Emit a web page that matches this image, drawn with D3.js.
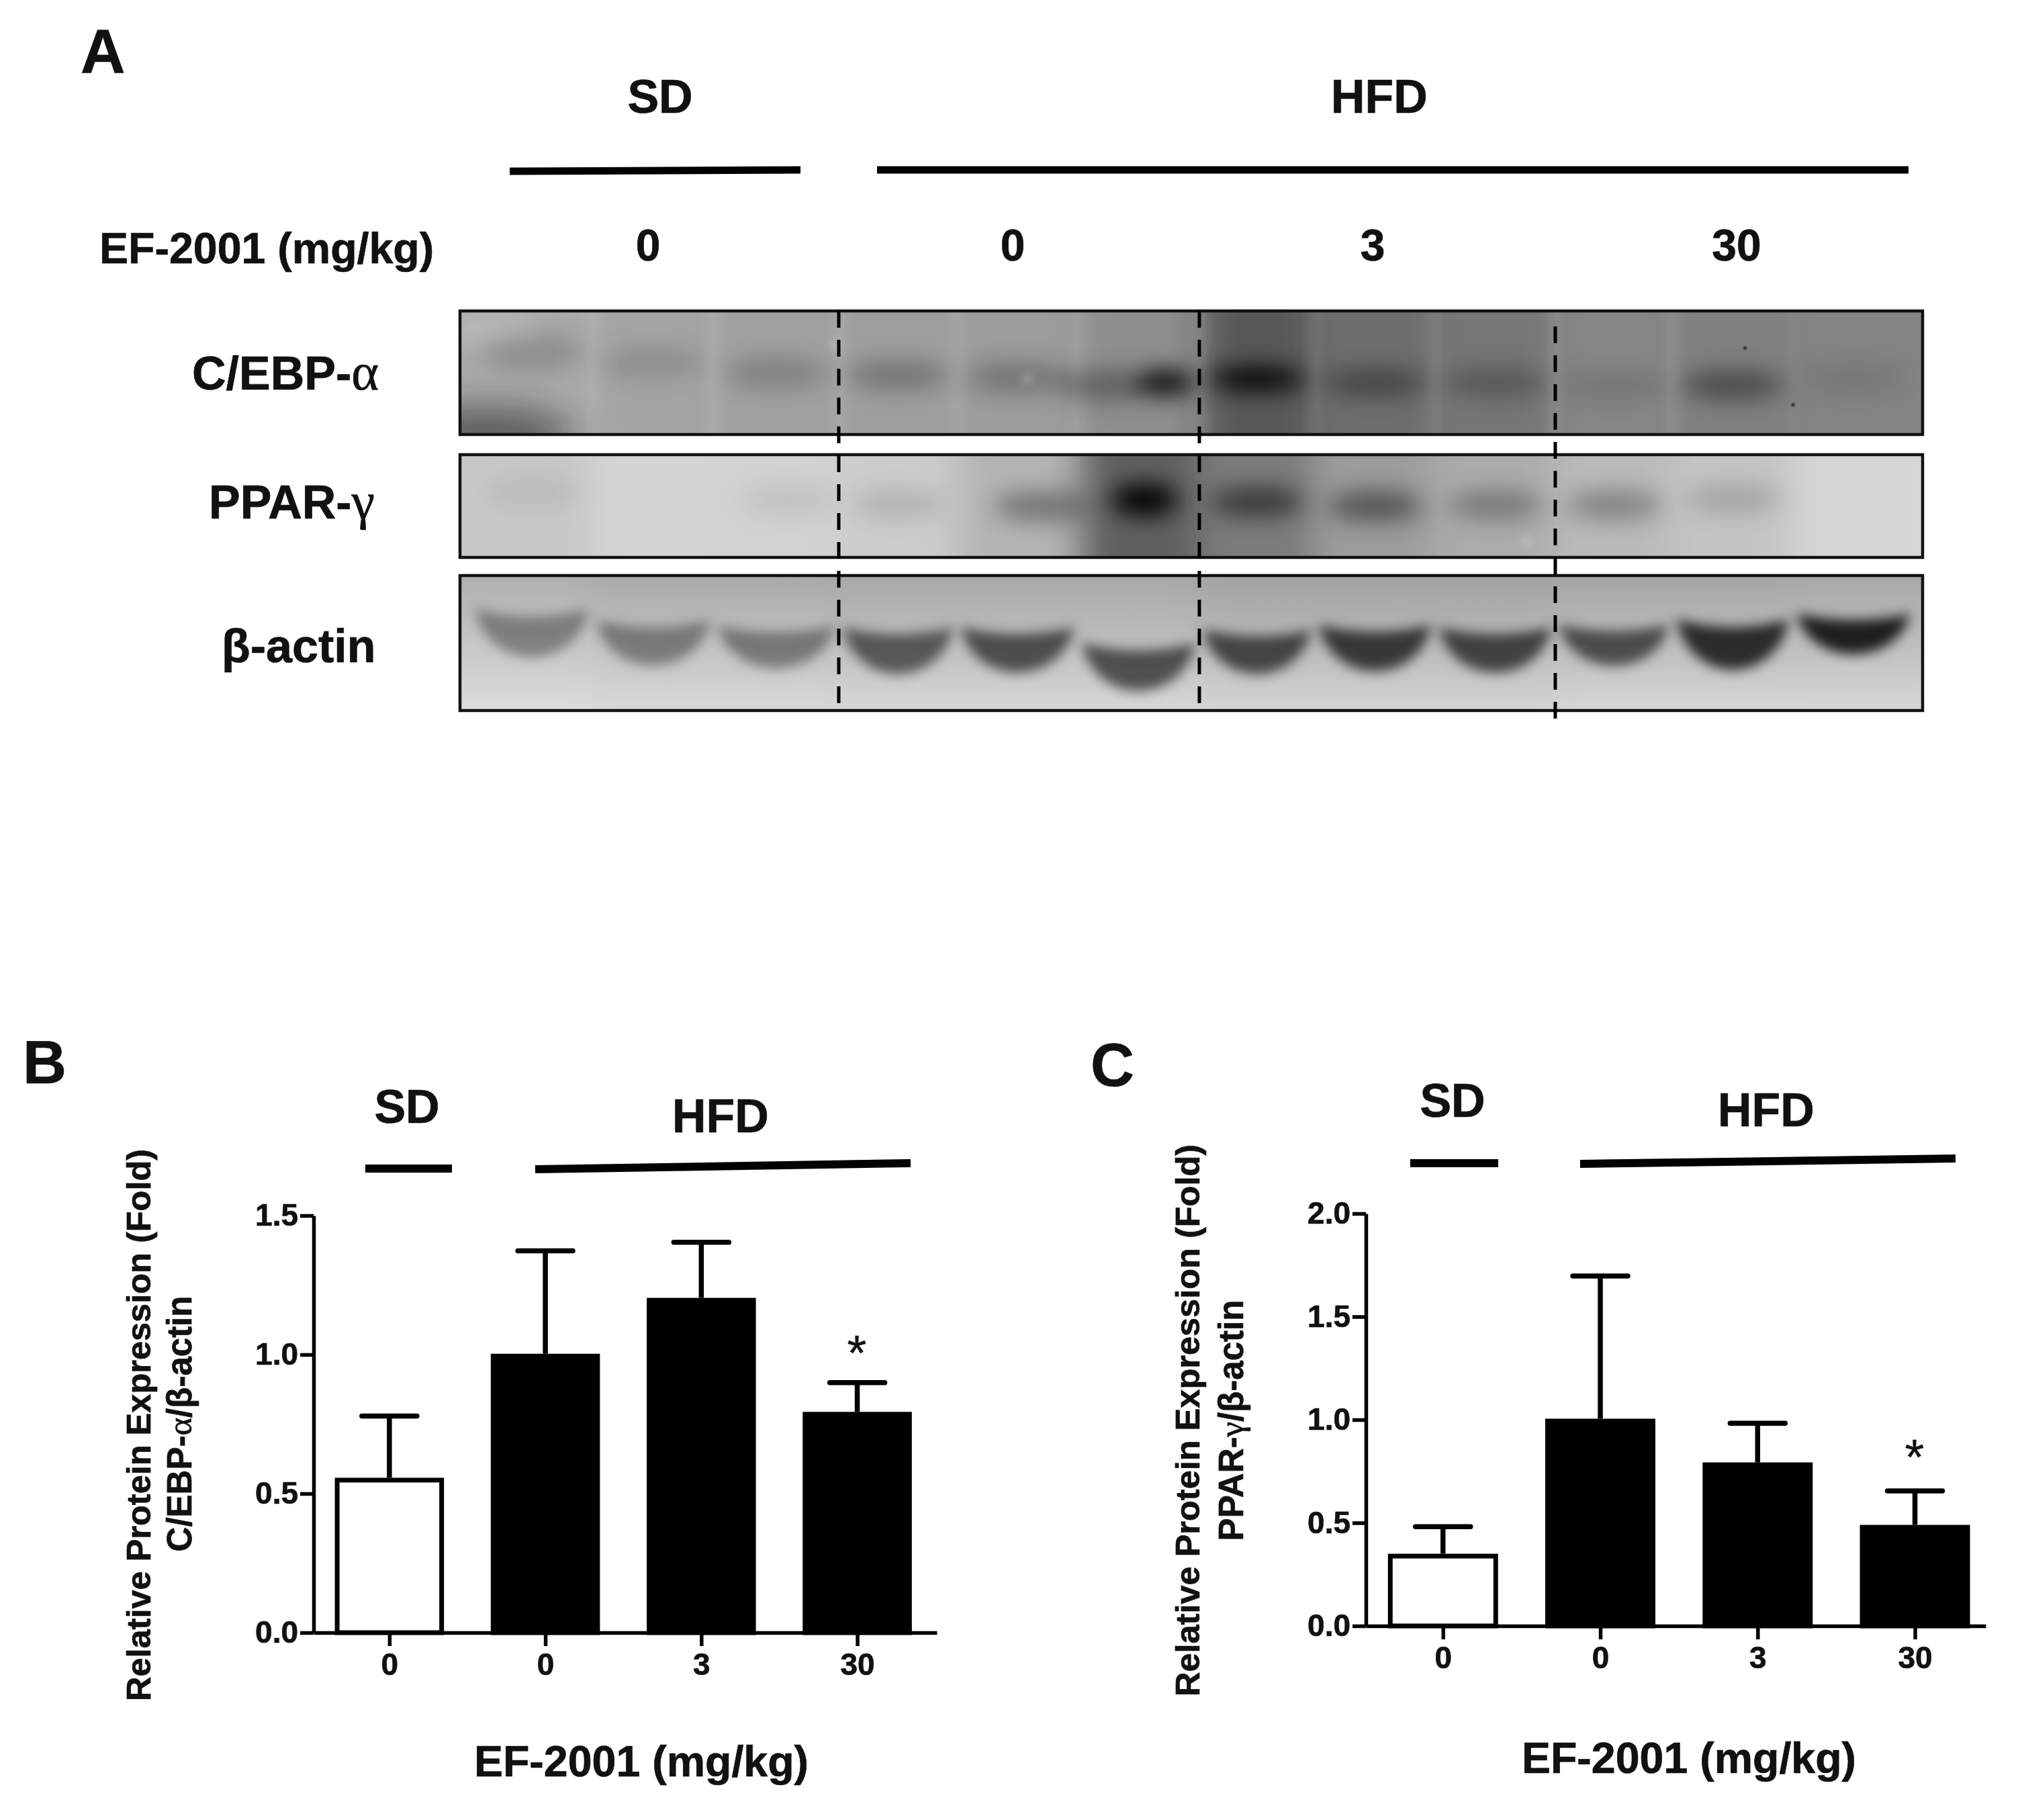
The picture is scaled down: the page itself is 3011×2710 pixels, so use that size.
<!DOCTYPE html>
<html><head><meta charset="utf-8">
<script src="https://cdn.jsdelivr.net/npm/d3@7"></script>
<style>
html,body{margin:0;padding:0;background:#fff}
svg{display:block}
text{font-family:"Liberation Sans",Arial,sans-serif;font-weight:700;fill:#111;stroke:#111;stroke-width:.7}
.greek{font-family:"Liberation Serif",serif;font-weight:400}
</style></head><body>
<div id="c"></div>
<script>
// ---------- data ----------
const xLabels = ["0","0","3","30"];
const groupB = ["SD","HFD","HFD","HFD"];
const cebpMean = [0.557,1.003,1.204,0.794];
const cebpUpper = [0.779,1.373,1.404,0.899];
const ppargMean = [0.35,1.005,0.793,0.49];
const ppargUpper = [0.481,1.697,0.983,0.655];
const cebpTicks = [0,0.5,1.0,1.5];
const ppargTicks = [0,0.5,1.0,1.5,2.0];
const doseLabels = ["0","0","3","30"];
const blotNames = ["C/EBP-","PPAR-","β-actin"];

// blot lane readings (12 lanes); grey = background level, density = band darkness, pos = relative height in panel
const cebpBg    = [170,164,160,158,156,142,88,110,118,134,128,132];
const cebpLane  = [0.5,1.5,2.5,3.5,4.5,5.25,5.72,6.5,7.5,8.5,9.5,10.5,11.5];
const cebpPos   = [0.33,0.42,0.50,0.52,0.54,0.60,0.58,0.55,0.58,0.58,0.60,0.60,0.54];
const cebpDens  = [0.16,0.14,0.20,0.26,0.26,0.32,1.0,1.0,0.36,0.26,0.12,0.42,0.10];
const pparBg    = [200,212,210,204,180,96,124,156,172,186,196,214];
const pparLane  = [0.5,2.6,3.5,4.7,5.55,6.5,7.5,8.5,9.5,10.5];
const pparPos   = [0.36,0.44,0.48,0.50,0.44,0.46,0.50,0.49,0.49,0.43];
const pparDens  = [0.07,0.08,0.12,0.36,1.0,0.55,0.48,0.30,0.30,0.16];
const actinBg   = [198,192,192,190,190,190,184,184,184,188,188,190];
const actinTop  = [0.25,0.333,0.373,0.383,0.383,0.50,0.40,0.365,0.383,0.365,0.325,0.283];
const actinBot  = [0.607,0.667,0.687,0.73,0.72,0.856,0.73,0.71,0.72,0.67,0.70,0.583];
const actinDens = [0.42,0.44,0.46,0.66,0.72,0.72,0.76,0.84,0.78,0.72,0.92,1.0];
const laneEdges = [702,882,1063,1249,1425,1605,1786,1958,2137,2316,2491,2670,2850];

const W=3011,H=2710;
const svg=d3.select("#c").append("svg").attr("width",W).attr("height",H).attr("viewBox",[0,0,W,H]);
svg.append("rect").attr("width",W).attr("height",H).attr("fill","#fff");
const defs=svg.append("defs");
function blur(id,s){defs.append("filter").attr("id",id).attr("filterUnits","userSpaceOnUse")
  .attr("x",0).attr("y",0).attr("width",W).attr("height",H)
  .append("feGaussianBlur").attr("stdDeviation",s);}
blur("b30",26);blur("b18",17);blur("b12",13);blur("b7",9);blur("b3",6);blur("b1",1.2);

const laneX=d3.scaleLinear().domain(d3.range(13)).range(laneEdges);
const left=685,right=2863;
const panels=[{t:463,b:647},{t:677,b:830},{t:857,b:1058}];
panels.forEach((p,i)=>{
  p.y=d3.scaleLinear().domain([0,1]).range([p.t,p.b]);
  defs.append("clipPath").attr("id","clip"+i).append("rect").attr("x",left).attr("y",p.t).attr("width",right-left).attr("height",p.b-p.t);
  p.g=svg.append("g").attr("clip-path",`url(#clip${i})`);
});
function grey(v){return d3.rgb(v,v,v)+"";}
function background(p,vals){
  p.g.append("g").attr("filter","url(#b30)").selectAll("rect").data(vals).join("rect")
    .attr("x",(d,i)=>laneX(i)-(i==0?80:0)).attr("width",(d,i)=>laneX(i+1)-laneX(i)+(i==0||i==11?80:0)+1)
    .attr("y",p.t-80).attr("height",p.b-p.t+160).attr("fill",d=>grey(d));
}
// --- C/EBP panel
const P0=panels[0];
background(P0,cebpBg);
P0.g.append("g").attr("filter","url(#b7)").selectAll("rect").data(d3.range(1,12)).join("rect")
  .attr("x",d=>laneX(d)-8).attr("width",16).attr("y",P0.t-20).attr("height",P0.b-P0.t+40)
  .attr("fill","#fff").attr("opacity",d=>d==11?0.03:0.11);
P0.g.append("ellipse").attr("cx",laneX(0.12)).attr("cy",P0.y(1.0)).attr("rx",130).attr("ry",42)
  .attr("fill","#222").attr("opacity",0.55).attr("filter","url(#b30)");
P0.g.append("ellipse").attr("cx",laneX(0.2)).attr("cy",P0.y(0.16)).attr("rx",70).attr("ry",22)
  .attr("fill","#fff").attr("opacity",0.22).attr("filter","url(#b18)");
P0.g.append("g").attr("filter","url(#b18)").selectAll("ellipse").data(cebpLane).join("ellipse")
  .attr("cx",d=>laneX(d)).attr("cy",(d,i)=>P0.y(cebpPos[i]))
  .attr("rx",(d,i)=>cebpDens[i]>0.8?(d>6?72:44):76).attr("ry",(d,i)=>cebpDens[i]>0.8?17:(i==0?30:22))
  .attr("fill","#000").attr("opacity",(d,i)=>cebpDens[i]);
P0.g.append("g").attr("filter","url(#b3)").selectAll("circle").data([[2.98,0.28],[4.58,0.55]]).join("circle")
  .attr("cx",d=>laneX(d[0])).attr("cy",d=>P0.y(d[1])).attr("r",9).attr("fill","#fff").attr("opacity",0.2);
P0.g.append("g").attr("filter","url(#b1)").selectAll("circle").data([[10.6,0.30],[11,0.76]]).join("circle")
  .attr("cx",d=>laneX(d[0])).attr("cy",d=>P0.y(d[1])).attr("r",2.5).attr("fill","#222");
// --- PPAR panel
const P1=panels[1];
background(P1,pparBg);
P1.g.append("g").attr("filter","url(#b18)").selectAll("ellipse").data(pparLane).join("ellipse")
  .attr("cx",d=>laneX(d)).attr("cy",(d,i)=>P1.y(pparPos[i]))
  .attr("rx",(d,i)=>pparDens[i]>0.8?50:70).attr("ry",(d,i)=>pparDens[i]>0.8?24:22)
  .attr("fill","#000").attr("opacity",(d,i)=>pparDens[i]);
P1.g.append("circle").attr("cx",laneX(8.76)).attr("cy",P1.y(0.84)).attr("r",9).attr("fill","#fff").attr("opacity",0.18).attr("filter","url(#b3)");
// --- actin panel
const P2=panels[2];
background(P2,actinBg);
const topGrad=defs.append("linearGradient").attr("id","fade").attr("x1",0).attr("x2",0).attr("y1",0).attr("y2",1);
topGrad.append("stop").attr("offset",0).attr("stop-color","#000").attr("stop-opacity",0.12);
topGrad.append("stop").attr("offset",0.5).attr("stop-color","#000").attr("stop-opacity",0);
topGrad.append("stop").attr("offset",0.5).attr("stop-color","#fff").attr("stop-opacity",0);
topGrad.append("stop").attr("offset",1).attr("stop-color","#fff").attr("stop-opacity",0.4);
P2.g.append("rect").attr("x",left).attr("y",P2.t).attr("width",right-left).attr("height",P2.b-P2.t).attr("fill","url(#fade)");
function crescent(i){
  const c=(laneX(i)+laneX(i+1))/2,w=(laneX(i+1)-laneX(i))*0.47,t=P2.y(actinTop[i]),b=P2.y(actinBot[i]);
  const h=b-t, pth=d3.path();
  pth.moveTo(c-w,t);
  pth.quadraticCurveTo(c,t+h*0.30,c+w,t);
  pth.bezierCurveTo(c+w*0.75,b+h*0.33,c-w*0.75,b+h*0.33,c-w,t);
  pth.closePath();
  return pth+"";
}
P2.g.append("g").attr("filter","url(#b7)").selectAll("path").data(d3.range(12)).join("path")
  .attr("d",crescent).attr("fill","#000").attr("opacity",d=>actinDens[d]*0.84);
// borders
panels.forEach(p=>svg.append("rect").attr("x",left).attr("y",p.t).attr("width",right-left).attr("height",p.b-p.t)
  .attr("fill","none").attr("stroke","#111").attr("stroke-width",4.5));
// dashed lane dividers
const dividers=[{lane:3,a:463,b:1054},{lane:6,a:463,b:1054},{lane:9,a:486,b:1075}];
svg.selectAll("line.dash").data(dividers).join("line").attr("class","dash")
  .attr("x1",d=>laneX(d.lane)).attr("x2",d=>laneX(d.lane))
  .attr("y1",d=>d.a).attr("y2",d=>d.b).attr("stroke","#000").attr("stroke-width",5).attr("stroke-dasharray","25 18");

function txt(x,y,s,size,anchor="middle",rot=null){
  const t=svg.append("text").attr("font-size",size).attr("text-anchor",anchor);
  if(rot!==null)t.attr("transform",`translate(${x},${y}) rotate(${rot})`);else t.attr("x",x).attr("y",y);
  t.text(s);return t;
}
function bar(x1,y1,x2,y2,w=10){svg.append("line").attr("x1",x1).attr("y1",y1).attr("x2",x2).attr("y2",y2).attr("stroke","#000").attr("stroke-width",w);}
// Panel A text
txt(120,108,"A",92,"start");
txt(983,168,"SD",70);txt(2054,168,"HFD",70);
bar(759,255,1192,253,11);bar(1306,253,2842,253,11);
txt(148,392,"EF-2001 (mg/kg)",64.5,"start");
const doseX=[965,1508,2044,2586];
doseLabels.forEach((d,i)=>txt(doseX[i],388,d,66));
txt(286,580,"C/EBP-",70,"start").append("tspan").attr("class","greek").attr("font-size",78).text("α");
txt(311,772,"PPAR-",70,"start").append("tspan").attr("class","greek").attr("font-size",78).text("γ");
txt(330,986,blotNames[2],70,"start");

// Bar panels
function barPanel(o){
  const y=d3.scaleLinear().domain([0,o.ymax]).range([o.y0,o.y1]);
  const x=d3.scaleLinear().domain(o.xd).range(o.xr);
  const bw=(x(1)-x(0))*0.7;
  const g=svg.append("g");
  g.selectAll("line.stem").data(o.mean).join("line").attr("class","stem")
    .attr("x1",(d,i)=>x(i)).attr("x2",(d,i)=>x(i)).attr("y1",d=>y(d)).attr("y2",(d,i)=>y(o.upper[i]))
    .attr("stroke","#000").attr("stroke-width",7.5);
  g.selectAll("line.cap").data(o.upper).join("line").attr("class","cap")
    .attr("x1",(d,i)=>x(i)-41).attr("x2",(d,i)=>x(i)+41).attr("y1",d=>y(d)).attr("y2",d=>y(d))
    .attr("stroke","#000").attr("stroke-width",7.5).attr("stroke-linecap","round");
  g.selectAll("rect").data(o.mean).join("rect")
    .attr("x",(d,i)=>x(i)-bw/2+3.5).attr("width",bw-7)
    .attr("y",d=>y(d)+3.5).attr("height",d=>y(0)-y(d)-3.5)
    .attr("fill",(d,i)=>groupB[i]=="SD"?"#fff":"#000").attr("stroke","#000").attr("stroke-width",7);
  const ax=svg.append("g").attr("transform",`translate(${o.xr[0]},0)`)
    .call(d3.axisLeft(y).tickValues(o.ticks).tickFormat(d3.format(".1f")).tickSize(20).tickPadding(3).tickSizeOuter(0));
  const bx=svg.append("g").attr("transform",`translate(0,${o.y0})`)
    .call(d3.axisBottom(x).tickValues([0,1,2,3]).tickFormat(i=>xLabels[i]).tickSize(20).tickPadding(10).tickSizeOuter(0));
  [ax,bx].forEach(a=>{a.selectAll("path,line").attr("stroke","#000").attr("stroke-width",5.5);
    a.selectAll("text").attr("font-size",46).attr("fill","#111");a.attr("font-family",null);});
  bx.selectAll("text").attr("dy","0.71em");
  txt(o.star[0],o.star[1],"*",74).style("font-weight","400").style("stroke-width",".4");
  txt(o.relX,o.relY,"Relative Protein Expression (Fold)",50.5,"middle",-90);
  const t=txt(o.subX,o.subY,o.sub[0],51,"middle",-90);
  t.append("tspan").attr("class","greek").text(o.sub[1]);
  t.append("tspan").text(o.sub[2]);
  txt(o.efX,o.efY,"EF-2001 (mg/kg)",64.5);
  txt(o.sd[0],o.sd[1],"SD",70);txt(o.hfd[0],o.hfd[1],"HFD",70);
  bar(...o.sdBar,12);bar(...o.hfdBar,12);
  txt(o.lab[0],o.lab[1],o.lab[2],90,"start");
}
barPanel({ymax:1.5,y0:2431,y1:1810,xd:[-0.486,3.51],xr:[467,1395],mean:cebpMean,upper:cebpUpper,ticks:cebpTicks,
  star:[1276,2040],relX:224,relY:2122,subX:285,subY:2120,sub:["C/EBP-","α","/β-actin"],efX:955,efY:2645,
  sd:[606,1672],hfd:[1073,1686],sdBar:[544,1740,673,1740],hfdBar:[797,1741,1356,1732],lab:[34,1613,"B"]});
barPanel({ymax:2,y0:2421,y1:1807,xd:[-0.49,3.45],xr:[2034,2957],mean:ppargMean,upper:ppargUpper,ticks:ppargTicks,
  star:[2851,2195],relX:1786,relY:2115,subX:1851,subY:2115,sub:["PPAR-","γ","/β-actin"],efX:2515,efY:2640,
  sd:[2163,1663],hfd:[2630,1677],sdBar:[2100,1732,2231,1732],hfdBar:[2353,1733,2912,1725],lab:[1624,1617,"C"]});
</script>
</body></html>
